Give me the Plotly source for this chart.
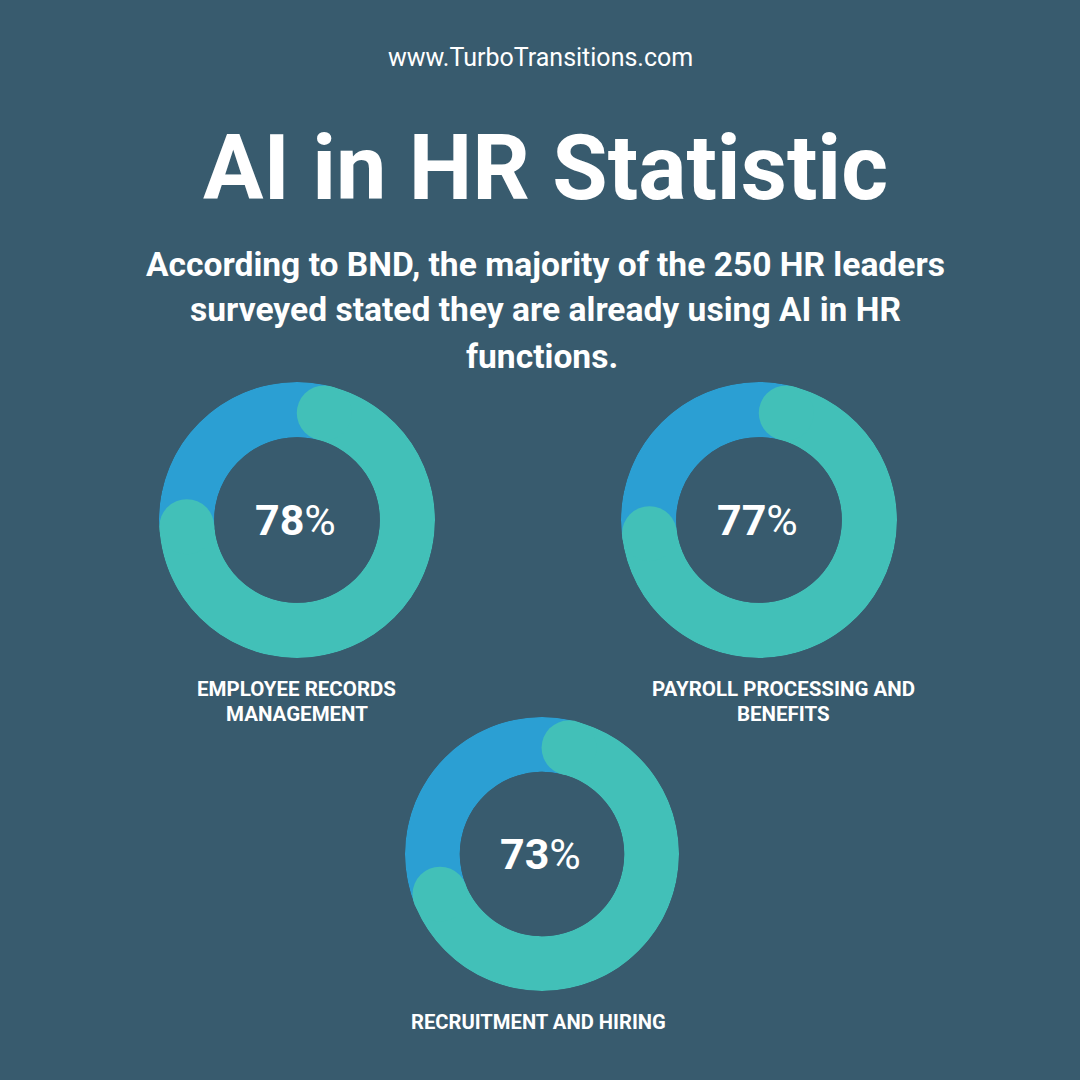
import plotly.graph_objects as go

BG = "#385b6e"
TEAL = "#42c0b8"
BLUE = "#2b9fd3"
WHITE = "#ffffff"

site = "www.TurboTransitions.com"
title = "AI in HR Statistic"
subtitle = [
    "According to BND, the majority of the 250 HR leaders",
    "surveyed stated they are already using AI in HR",
    "functions.",
]
names = [
    ["EMPLOYEE RECORDS", "MANAGEMENT"],
    ["PAYROLL PROCESSING AND", "BENEFITS"],
    ["RECRUITMENT AND HIRING"],
]
percents = [78, 77, 73]

# page pixels
PAGE = 1080
boxes = [(159, 435, 382, 658), (621, 897, 382, 658), (405, 679, 717, 991)]
subtitle_x = [545, 545, 541.5]
subtitle_y = [264, 310, 356]
name_x = [296.5, 783.5, 538]
name_y = [[689, 714], [689, 714], [1022]]
pct_x = [295.5, 757.5, 540.5]
HOLE = 0.6
CAP_DEG = 14.3  # angle the rounded end takes up, measured at mid ring
CAP_SIZE = 55


def label(fig, x, y, text, family, size):
    fig.add_annotation(
        x=x / PAGE, y=1 - y / PAGE, xref="paper", yref="paper",
        xanchor="center", yanchor="middle", text=text, showarrow=False,
        font=dict(family=family, size=size, color=WHITE),
    )


fig = go.Figure()
layout_polars = {}
for i, pct in enumerate(percents):
    l, r, t, b = boxes[i]
    key = "polar" if i == 0 else f"polar{i + 1}"
    sweep = pct * 3.6
    start = CAP_DEG
    end = sweep - CAP_DEG
    # blue runs the rest of the way round, under both teal ends
    fig.add_trace(go.Barpolar(
        r=[1], theta=[(end + start + 360) / 2], width=[360 - (end - start)],
        marker=dict(color=BLUE, line=dict(width=0)),
        subplot=key, showlegend=False, hoverinfo="skip",
    ))
    fig.add_trace(go.Barpolar(
        r=[1], theta=[(start + end) / 2], width=[end - start],
        marker=dict(color=TEAL, line=dict(width=0)),
        subplot=key, showlegend=False, name=f"{pct}%",
    ))
    fig.add_trace(go.Scatterpolar(
        r=[0.5, 0.5], theta=[start, end], mode="markers",
        marker=dict(color=TEAL, size=CAP_SIZE, line=dict(width=0)),
        subplot=key, showlegend=False, hoverinfo="skip",
    ))
    layout_polars[key] = dict(
        domain=dict(x=[l / PAGE, r / PAGE], y=[1 - b / PAGE, 1 - t / PAGE]),
        hole=HOLE,
        bgcolor="rgba(0,0,0,0)",
        angularaxis=dict(visible=False, rotation=90, direction="clockwise"),
        radialaxis=dict(visible=False, range=[0, 1]),
    )
    label(fig, pct_x[i], (t + b) / 2, f"<b>{pct}</b>%", "Roboto", 43)
    for line, y in zip(names[i], name_y[i]):
        label(fig, name_x[i], y, f"<b>{line}</b>", "Roboto", 20.5 if i < 2 else 20.2)

label(fig, 540, 58, site, "Roboto", 25)
label(fig, 545, 168, f"<b>{title}</b>", "Roboto", 90)
for line, x, y in zip(subtitle, subtitle_x, subtitle_y):
    label(fig, x, y, f"<b>{line}</b>", "Roboto", 33.6)

fig.update_layout(
    width=PAGE, height=PAGE,
    margin=dict(l=0, r=0, t=0, b=0),
    paper_bgcolor=BG,
    plot_bgcolor=BG,
    **layout_polars,
)
fig.write_html("out.html", config=dict(displayModeBar=False),
               post_script="document.body.style.margin='0';")
